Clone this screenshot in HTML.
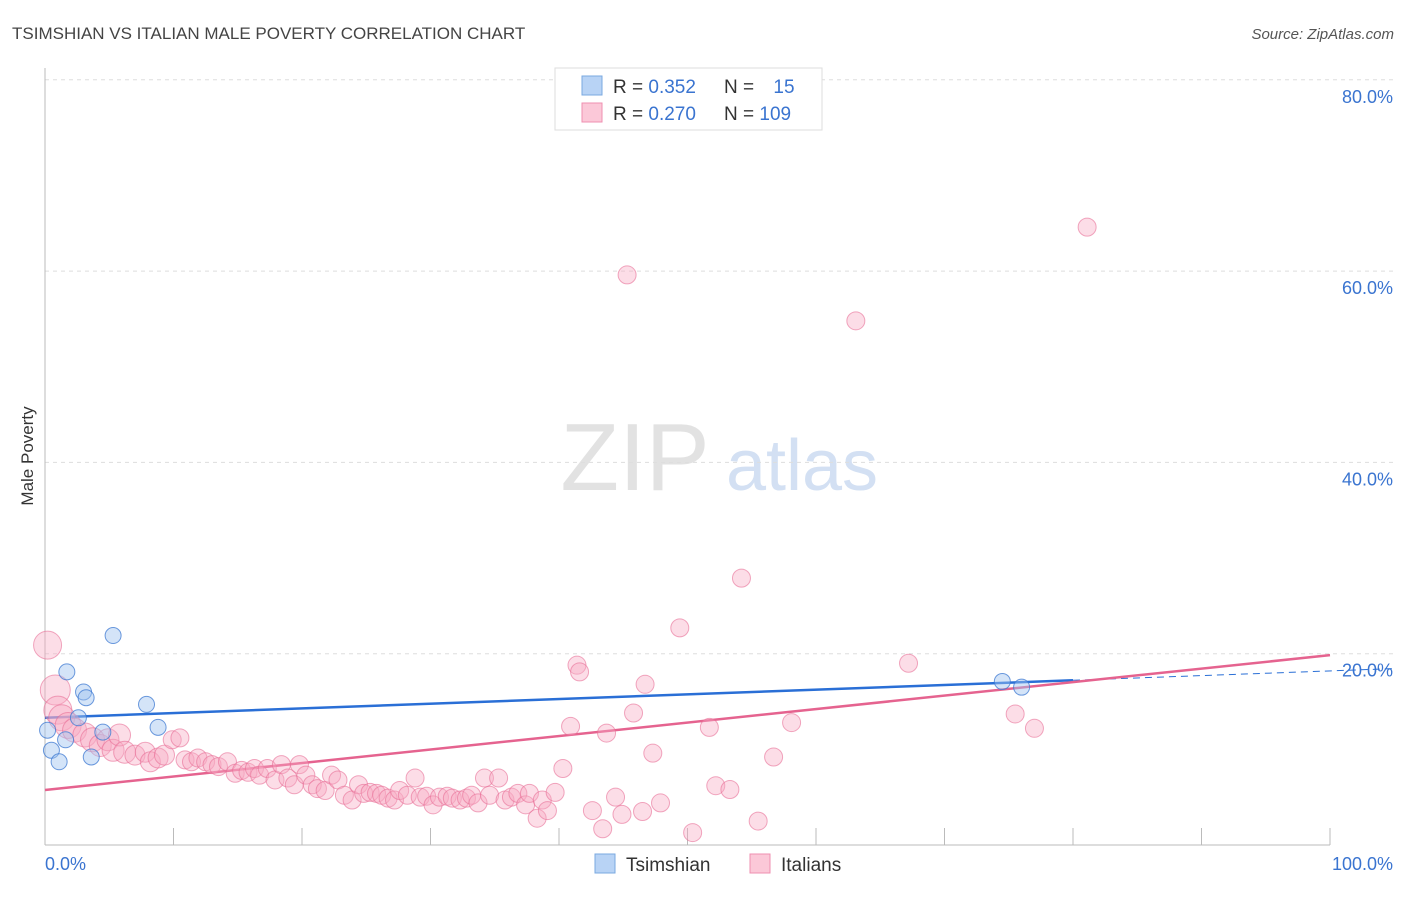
<!DOCTYPE html>
<html><head><meta charset="utf-8">
<style>
body{margin:0;background:#fff;font-family:"Liberation Sans",sans-serif;}
svg text{font-family:"Liberation Sans",sans-serif;}
</style></head>
<body>
<svg id="chart" width="1406" height="892" xmlns="http://www.w3.org/2000/svg">
<text x="12" y="39" font-size="17" fill="#444">TSIMSHIAN VS ITALIAN MALE POVERTY CORRELATION CHART</text>
<text x="1394" y="39" font-size="15" fill="#555" font-style="italic" text-anchor="end">Source: ZipAtlas.com</text>
<text x="33" y="456" font-size="17" fill="#333" text-anchor="middle" transform="rotate(-90 33 456)">Male Poverty</text>
<g>
<text x="635" y="490" font-size="96" fill="#e2e2e2" font-family="Liberation Serif,serif" text-anchor="middle">ZIP</text>
<text x="802" y="490" font-size="72" fill="#d3e0f3" text-anchor="middle">atlas</text>
</g>
<g id="grid"></g><g id="axes"></g><g id="trend"></g><g id="pts"></g>
<g>
<rect x="555" y="68" width="267" height="62" fill="#fff" stroke="#ddd"/>
<rect x="582" y="76" width="20" height="19" fill="#b8d3f5" stroke="#7aa8e0"/>
<rect x="582" y="103" width="20" height="19" fill="#fbc8d8" stroke="#ef8fb0"/>
<text x="613" y="93" font-size="19" fill="#333">R = <tspan fill="#3a74d0">0.352</tspan></text>
<text x="724" y="93" font-size="19" fill="#333">N = <tspan fill="#3a74d0" dx="14">15</tspan></text>
<text x="613" y="120" font-size="19" fill="#333">R = <tspan fill="#3a74d0">0.270</tspan></text>
<text x="724" y="120" font-size="19" fill="#333">N = <tspan fill="#3a74d0">109</tspan></text>
</g>
<g>
<rect x="595" y="854" width="20" height="19" fill="#b8d3f5" stroke="#7aa8e0"/>
<text x="626" y="871" font-size="19" fill="#333">Tsimshian</text>
<rect x="750" y="854" width="20" height="19" fill="#fbc8d8" stroke="#ef8fb0"/>
<text x="781" y="871" font-size="19" fill="#333">Italians</text>
</g>
</svg>
<script>
const yTicks=[20,40,60,80];
const yTickLabels=["20.0%","40.0%","60.0%","80.0%"];
const xTicks=[0,10,20,30,40,50,60,70,80,90,100];
const xEndLabels=["0.0%","100.0%"];
const blueX=[0.2,0.5,1.1,1.6,1.7,3.0,3.2,2.6,4.5,3.6,5.3,7.9,8.8,74.5,76.0];
const blueY=[12.0,9.9,8.7,11.0,18.1,16.0,15.4,13.3,11.8,9.2,21.9,14.7,12.3,17.1,16.5];
const pinkX=[0.2,0.8,1.0,1.3,1.8,2.3,3.1,3.7,4.3,4.9,5.3,5.8,6.2,7.0,7.8,8.2,8.8,9.3,9.9,10.5,10.9,11.4,11.9,12.5,13.0,13.5,14.2,14.8,15.3,15.8,16.3,16.7,17.3,17.9,18.4,18.9,19.4,19.8,20.3,20.8,21.2,21.8,22.3,22.8,23.3,23.9,24.4,24.8,25.3,25.8,26.2,26.7,27.2,27.6,28.2,28.8,29.2,29.7,30.2,30.7,31.3,31.7,32.3,32.8,33.2,33.7,34.2,34.6,35.3,35.8,36.3,36.8,37.4,37.7,38.3,38.7,39.1,39.7,40.3,40.9,41.4,41.6,42.6,43.4,43.7,44.4,44.9,45.3,45.8,46.5,46.7,47.3,47.9,49.4,50.4,51.7,52.2,53.3,54.2,55.5,56.7,58.1,63.1,67.2,75.5,77.0,81.1];
const pinkY=[20.9,16.2,14.1,13.3,12.5,12.0,11.5,11.0,10.4,11.0,9.9,11.5,9.7,9.4,9.7,8.7,9.1,9.4,11.0,11.2,8.9,8.7,9.1,8.7,8.4,8.2,8.7,7.5,7.8,7.6,8.0,7.3,8.0,6.8,8.4,7.0,6.3,8.4,7.3,6.3,5.9,5.7,7.3,6.8,5.2,4.7,6.3,5.4,5.5,5.4,5.2,4.9,4.7,5.7,5.2,7.0,5.0,5.1,4.2,5.0,5.1,4.9,4.7,4.9,5.2,4.4,7.0,5.2,7.0,4.7,5.0,5.4,4.2,5.4,2.8,4.7,3.6,5.5,8.0,12.4,18.8,18.1,3.6,1.7,11.7,5.0,3.2,59.6,13.8,3.5,16.8,9.6,4.4,22.7,1.3,12.3,6.2,5.8,27.9,2.5,9.2,12.8,54.8,19.0,13.7,12.2,64.6];
const pinkSize=[14,15,14,13,13,12,12,12,11,11,11,11,11,10,10,10,10,10,9,9,9,9,9,9,9,9,9,9,9,9,9,9,9,9,9,9,9,9,9,9,9,9,9,9,9,9,9,9,9,9,9,9,9,9,9,9,9,9,9,9,9,9,9,9,9,9,9,9,9,9,9,9,9,9,9,9,9,9,9,9,9,9,9,9,9,9,9,9,9,9,9,9,9,9,9,9,9,9,9,9,9,9,9,9,9,9,9,9,9];
const blueTrend=[13.3,0.049];
const pinkTrend=[5.75,0.141];
const X0=45,X1=1330,YB=845,PER=9.565;
const sx=v=>X0+(X1-X0)*v/100, sy=v=>YB-v*PER;
const NS="http://www.w3.org/2000/svg";
function mk(tag,attrs,parent){const e=document.createElementNS(NS,tag);for(const k in attrs)e.setAttribute(k,attrs[k]);document.getElementById(parent).appendChild(e);return e;}
yTicks.forEach((t,i)=>{
 const g=mk('line',{x1:X0,x2:1394,y1:sy(t),y2:sy(t),stroke:'#ddd','stroke-dasharray':'4,4'},'grid');
 
 
 const l=mk('text',{x:1393,y:sy(t)+23,'font-size':18,fill:'#3a74d0','text-anchor':'end'},'grid');
 l.textContent=yTickLabels[i];
 
 
});
const ya=mk('line',{x1:X0,x2:X0,y1:68,y2:YB,stroke:'#bbb'},'axes');


const xa=mk('line',{x1:X0,x2:X1,y1:YB,y2:YB,stroke:'#bbb'},'axes');


xTicks.forEach(t=>{
 const k=mk('line',{x1:sx(t),x2:sx(t),y1:828,y2:YB,stroke:'#bbb'},'axes');
 
 
});
const xl0=mk('text',{x:45,y:870,'font-size':18,fill:'#3a74d0'},'axes');xl0.textContent=xEndLabels[0];


const xl1=mk('text',{x:1393,y:870,'font-size':18,fill:'#3a74d0','text-anchor':'end'},'axes');xl1.textContent=xEndLabels[1];


pinkX.forEach((x,i)=>{
 const c=mk('circle',{cx:sx(x),cy:sy(pinkY[i]),r:pinkSize[i],fill:'rgba(247,170,195,0.4)',stroke:'rgba(232,110,150,0.6)','stroke-width':1},'pts');
 
 
});
blueX.forEach((x,i)=>{
 const c=mk('circle',{cx:sx(x),cy:sy(blueY[i]),r:8,fill:'rgba(160,195,240,0.45)',stroke:'rgba(60,120,210,0.75)','stroke-width':1},'pts');
 
 
});
const bl=mk('line',{x1:sx(0),y1:sy(blueTrend[0]),x2:sx(80),y2:sy(blueTrend[0]+blueTrend[1]*80),stroke:'#2a6fd6','stroke-width':2.5},'trend');


const bd=mk('line',{x1:sx(80),y1:sy(blueTrend[0]+blueTrend[1]*80),x2:1394,y2:sy(blueTrend[0]+blueTrend[1]*105),stroke:'#2a6fd6','stroke-width':1,'stroke-dasharray':'7,5'},'trend');


const pl=mk('line',{x1:sx(0),y1:sy(pinkTrend[0]),x2:sx(100),y2:sy(pinkTrend[0]+pinkTrend[1]*100),stroke:'#e5638f','stroke-width':2.5},'trend');


</script>
</body></html>
